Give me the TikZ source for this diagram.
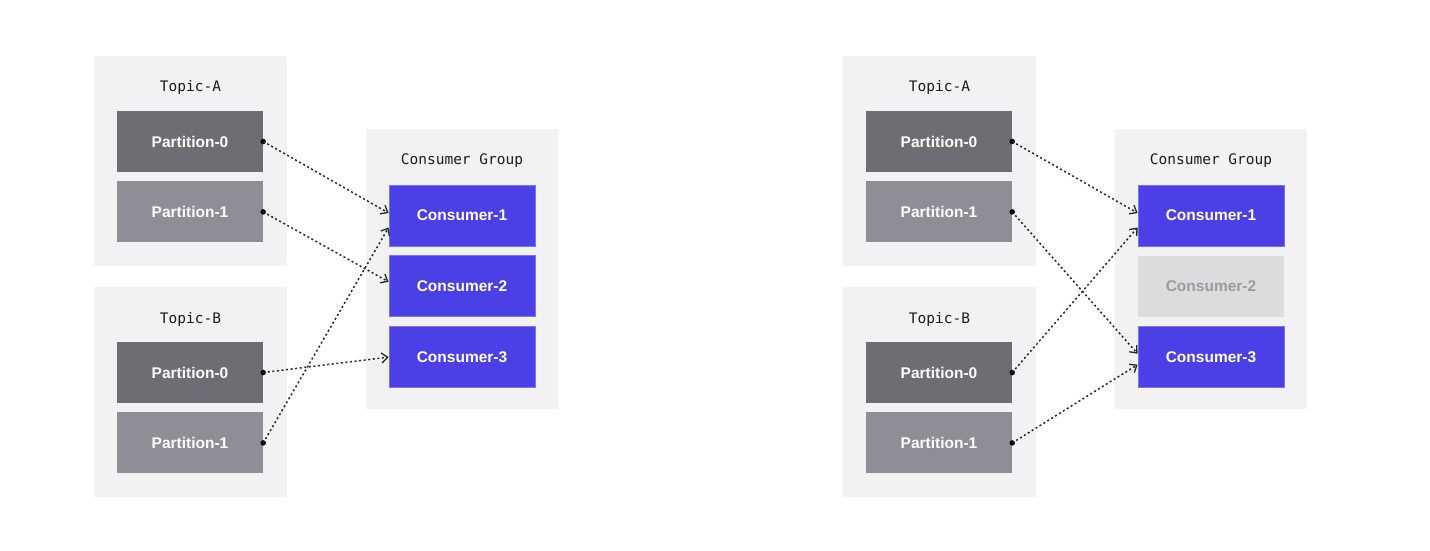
\documentclass[tikz,border=0pt]{standalone}
\usepackage{fontspec}
\setmainfont{Liberation Sans}
\setmonofont{DejaVu Sans Mono}
\usepackage{tikz}
\usetikzlibrary{arrows.meta, positioning}

\definecolor{panelbg}{HTML}{F2F1F4}
\definecolor{partdark}{HTML}{6E6D73}
\definecolor{partlight}{HTML}{8F8E96}
\definecolor{consblue}{HTML}{4A40E6}
\definecolor{consedge}{HTML}{7C74F0}
\definecolor{consoff}{HTML}{DCDCDE}
\definecolor{consofftext}{HTML}{9C9CA0}
\definecolor{labeltext}{HTML}{1C1C1E}

\begin{document}
\begin{tikzpicture}[x=1pt,y=-1pt,>={Straight Barb[length=6pt,width=10pt,line width=1.3pt]},
        panel/.style={fill=panelbg,minimum width=193pt,minimum height=210pt,inner sep=0pt},
        title/.style={font=\ttfamily\fontsize{14.5}{16}\selectfont,text=labeltext},
        box/.style={minimum width=146pt,minimum height=61pt,inner sep=0pt,
            font=\bfseries\fontsize{15.5}{17}\selectfont,text=white},
        pdark/.style={box,fill=partdark},
        plight/.style={box,fill=partlight},
        cons/.style={box,fill=consblue,draw=consedge,line width=0.8pt},
        considle/.style={box,fill=consoff,text=consofftext},
        link/.style={->,line width=1.5pt,dash pattern=on 2pt off 2.6pt,black!85},
        dot/.style={circle,fill=black,inner sep=0pt,minimum size=5.5pt}]

    \useasboundingbox (0,0) rectangle (1430,550);

    % left: every consumer busy
    \node[panel]                       (lta)  at (190.5,161) {};
    \node[title]                               at (190.5,87)  {Topic-A};
    \node[pdark]                       (la0)  at (190,141.5) {Partition-0};
    \node[plight]                      (la1)  [below=9pt of la0] {Partition-1};

    \node[panel]                       (ltb)  at (190.5,392) {};
    \node[title]                               at (190.5,319) {Topic-B};
    \node[pdark]                       (lb0)  at (190,372.5) {Partition-0};
    \node[plight]                      (lb1)  [below=9pt of lb0] {Partition-1};

    \node[panel,minimum width=192pt,minimum height=280pt] (lgrp) at (462,269) {};
    \node[title]                               at (462,161)   {Consumer Group};
    \node[cons]                        (lc1)  at (462,215.5) {Consumer-1};
    \node[cons]                        (lc2)  [below=9pt of lc1] {Consumer-2};
    \node[cons]                        (lc3)  [below=9pt of lc2] {Consumer-3};

    \foreach \p in {la0,la1,lb0,lb1} \node[dot] at (\p.east) {};
    \draw[link] (la0.east) -- ([yshift=2.5pt]lc1.west);
    \draw[link] (la1.east) -- ([yshift=4.5pt]lc2.west);
    \draw[link] (lb0.east) -- (lc3.west);
    \draw[link] (lb1.east) -- ([yshift=-12pt]lc1.west);

    % right: consumer-2 gone, partitions rebalanced
    \node[panel]                       (rta)  at (939.5,161) {};
    \node[title]                               at (939.5,87)  {Topic-A};
    \node[pdark]                       (ra0)  at (939,141.5) {Partition-0};
    \node[plight]                      (ra1)  [below=9pt of ra0] {Partition-1};

    \node[panel]                       (rtb)  at (939.5,392) {};
    \node[title]                               at (939.5,319) {Topic-B};
    \node[pdark]                       (rb0)  at (939,372.5) {Partition-0};
    \node[plight]                      (rb1)  [below=9pt of rb0] {Partition-1};

    \node[panel,minimum width=192pt,minimum height=280pt] (rgrp) at (1211,269) {};
    \node[title]                               at (1211,161)  {Consumer Group};
    \node[cons]                        (rc1)  at (1211,215.5) {Consumer-1};
    \node[considle]                    (rc2)  [below=9pt of rc1] {Consumer-2};
    \node[cons]                        (rc3)  [below=9pt of rc2] {Consumer-3};

    \foreach \p in {ra0,ra1,rb0,rb1} \node[dot] at (\p.east) {};
    \draw[link] (ra0.east) -- ([yshift=2.5pt]rc1.west);
    \draw[link] (ra1.east) -- ([yshift=3pt]rc3.west);
    \draw[link] (rb0.east) -- ([yshift=-12pt]rc1.west);
    \draw[link] (rb1.east) -- ([yshift=-8pt]rc3.west);
\end{tikzpicture}
\end{document}
